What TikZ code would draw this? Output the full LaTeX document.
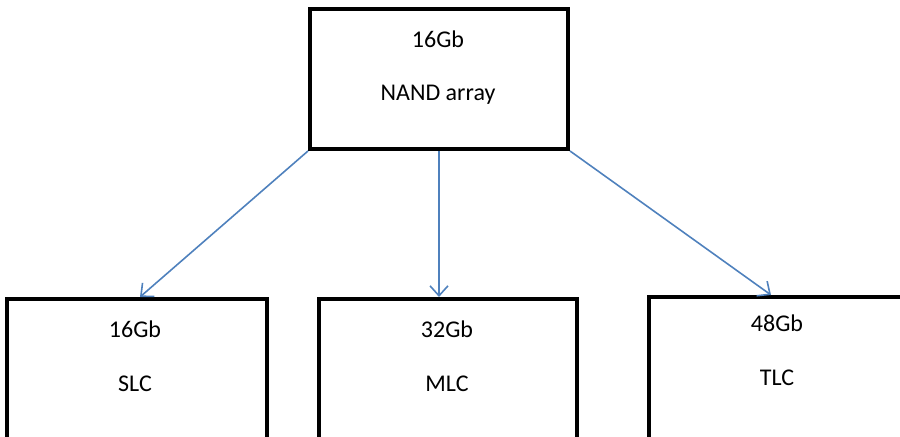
\documentclass[tikz,border=0pt]{standalone}
\usepackage{fontspec}
\setmainfont{Carlito}
\usetikzlibrary{arrows.meta}

\begin{document}
\begin{tikzpicture}[x=0.5pt, y=-0.5pt, line join=miter,
		% Styles
		cell box/.style={draw=black, line width=2pt, fill=white, inner sep=0pt},
		cell text/.style={font=\fontsize{12}{14}\selectfont, inner sep=0pt},
		split arrow/.style={draw=arrowcolor, line width=0.8pt, -{Straight Barb[length=5pt, width=9pt]}}
		]
		
		% Colors
		\definecolor{arrowcolor}{RGB}{79,129,189}
		
		\useasboundingbox (0, 0) rectangle (900, 437);
		\clip (0, 0) rectangle (900, 437);
		
		% Array on top
		\node[cell box, minimum width=129pt, minimum height=70pt] (nand) at (439, 79) {};
		\node[cell text] (nand size) at (438, 39) {16Gb};
		\node[cell text] (nand name) at (438, 95) {NAND array};
		
		% Cell types (boxes run past the lower edge)
		\node[cell box, minimum width=130pt, minimum height=80pt] (slc) at (137, 379) {};
		\node[cell box, minimum width=129pt, minimum height=80pt] (mlc) at (448, 379) {};
		\node[cell box, minimum width=131pt, minimum height=81pt] (tlc) at (780, 378) {};
		
		\node[cell text] (slc size) at (135, 329) {16Gb};
		\node[cell text] (slc name) at (135, 384) {SLC};
		\node[cell text] (mlc size) at (447, 329) {32Gb};
		\node[cell text] (mlc name) at (447, 384) {MLC};
		\node[cell text] (tlc size) at (777, 323) {48Gb};
		\node[cell text] (tlc name) at (777, 378) {TLC};
		
		% Arrows
		\draw[split arrow] (nand.south west) -- ([xshift=1.5pt]slc.north);
		\draw[split arrow] (nand.south) -- (nand.south |- mlc.north);
		\draw[split arrow] (nand.south east) -- ([xshift=-4.5pt]tlc.north);
		
	\end{tikzpicture}
\end{document}
